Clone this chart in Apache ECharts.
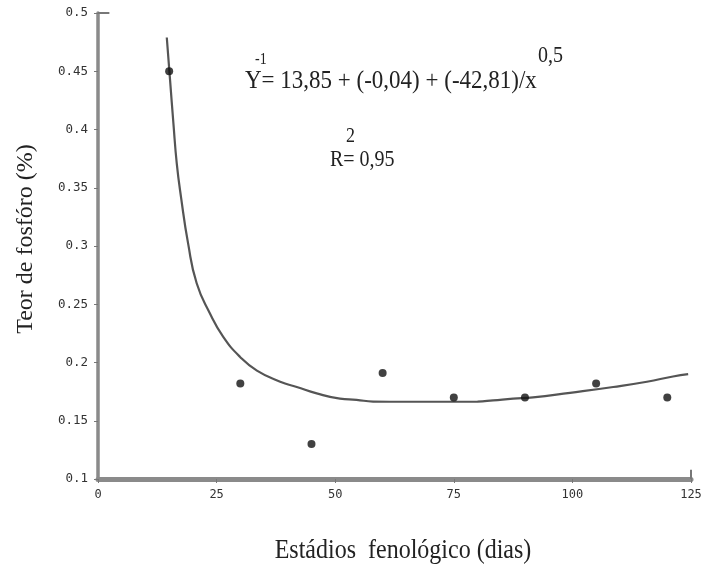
<!DOCTYPE html>
<html>
<head>
<meta charset="utf-8">
<script src="https://cdn.jsdelivr.net/npm/echarts@6/dist/echarts.min.js"></script>
<style>
  html, body { margin: 0; padding: 0; background: #fff; }
  #chart { width: 707px; height: 564px; }
</style>
</head>
<body>
<div id="chart"></div>
<script>
// observed points (dias, teor %)
const pointX = [15, 30, 45, 60, 75, 90, 105, 120];
const pointY = [0.45, 0.182, 0.13, 0.191, 0.17, 0.17, 0.182, 0.17];

// fitted curve
const curveX = [14.5, 15.2, 15.9, 16.6, 17.5, 19, 20.8, 23.6, 26.4, 29.9, 33.5, 38.4, 41.9, 46.1, 51, 54.5, 58, 65, 72, 80, 83.3, 87.5, 91.7, 99.5, 108.6, 115.7, 121.2, 124.4];
const curveY = [0.479, 0.442, 0.405, 0.371, 0.342, 0.302, 0.268, 0.242, 0.222, 0.205, 0.193, 0.1835, 0.179, 0.1735, 0.169, 0.168, 0.1665, 0.1663, 0.1663, 0.1665, 0.1675, 0.169, 0.170, 0.174, 0.179, 0.1835, 0.188, 0.190];

const xTicks = [0, 25, 50, 75, 100, 125];
const yTicks = [0.1, 0.15, 0.2, 0.25, 0.3, 0.35, 0.4, 0.45, 0.5];

const xTitle = 'Estádios  fenológico (dias)';
const yTitle = 'Teor de fosfóro (%)';

const SERIF = '"Liberation Serif", "DejaVu Serif", serif';
const LABEL_FONT = '"DejaVu Sans Mono", "Liberation Mono", monospace';
const INK = '#222';

const chart = echarts.init(document.getElementById('chart'));

// text squeezed a bit taller than wide, like the scanned original
function txt(text, x, y, size, sy) {
  return {
    type: 'text', x, y, scaleY: sy,
    style: { text, font: size + 'px ' + SERIF, fill: INK },
  };
}

chart.setOption({
  animation: false,
  grid: { left: 98, right: 16, top: 13, bottom: 85 },
  xAxis: {
    type: 'value',
    min: xTicks[0],
    max: xTicks[xTicks.length - 1],
    interval: 25,
    axisLine: { lineStyle: { color: '#8a8a8a', width: 5 } },
    axisTick: { show: true, length: 4, lineStyle: { color: '#777' } },
    axisLabel: { fontFamily: LABEL_FONT, fontSize: 12, color: '#333', margin: 10 },
    splitLine: { show: false },
  },
  yAxis: {
    type: 'value',
    min: yTicks[0],
    max: yTicks[yTicks.length - 1],
    interval: 0.05,
    axisLine: { show: true, lineStyle: { color: '#8a8a8a', width: 3.5 } },
    axisTick: { show: true, length: 4, lineStyle: { color: '#777' } },
    axisLabel: { fontFamily: LABEL_FONT, fontSize: 12.5, color: '#333', margin: 10 },
    splitLine: { show: false },
  },
  series: [
    {
      type: 'line',
      data: curveX.map((x, i) => [x, curveY[i]]),
      smooth: true,
      showSymbol: false,
      lineStyle: { color: '#555', width: 2.2 },
      z: 2,
    },
    {
      type: 'scatter',
      data: pointX.map((x, i) => [x, pointY[i]]),
      symbol: 'circle',
      symbolSize: 8,
      itemStyle: { color: '#111' },
      z: 3,
      // small caps at the axis ends, as in the original frame
      markLine: {
        silent: true,
        symbol: 'none',
        label: { show: false },
        lineStyle: { color: '#777', width: 2, type: 'solid' },
        data: [
          [{ coord: [xTicks[0], yTicks[yTicks.length - 1]] }, { coord: [2.4, yTicks[yTicks.length - 1]] }],
          [{ coord: [xTicks[xTicks.length - 1], yTicks[0]] }, { coord: [xTicks[xTicks.length - 1], 0.108] }],
        ],
      },
    },
  ],
  graphic: [
    txt('-1', 255, 51, 14, 1.2),
    txt('Y= 13,85 + (-0,04) + (-42,81)/x', 245, 68, 23, 1.12),
    txt('0,5', 538, 45, 20, 1.12),
    txt('2', 346, 126, 18, 1.15),
    txt('R= 0,95', 330, 148, 20, 1.15),
    {
      type: 'text', x: 403, y: 537, scaleY: 1.15,
      style: { text: xTitle, font: '24px ' + SERIF, fill: INK, align: 'center' },
    },
    {
      type: 'text', x: 26, y: 239, rotation: Math.PI / 2,
      style: { text: yTitle, font: '24px ' + SERIF, fill: INK, align: 'center', verticalAlign: 'middle' },
    },
  ],
});
</script>
</body>
</html>
